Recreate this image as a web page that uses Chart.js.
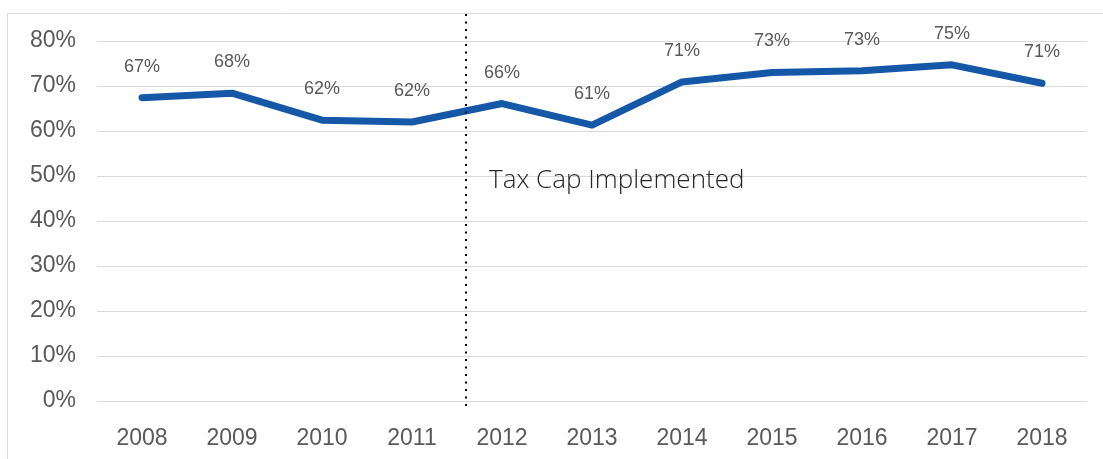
<!DOCTYPE html>
<html>
<head>
<meta charset="utf-8">
<script src="https://cdn.jsdelivr.net/npm/chart.js@4"></script>
<style>
    html, body { margin: 0; padding: 0; background: #ffffff; }
    #wrap { position: relative; width: 1103px; height: 459px; }
</style>
</head>
<body>
<div id="wrap"><canvas id="taxChart" width="1103" height="459"></canvas></div>
<script>
        // Chart data
        const years = ['2008', '2009', '2010', '2011', '2012', '2013', '2014', '2015', '2016', '2017', '2018'];
        const rates = [67.4, 68.4, 62.4, 62.0, 66.1, 61.3, 70.9, 73.0, 73.4, 74.7, 70.6];
        const yTicks = [0, 10, 20, 30, 40, 50, 60, 70, 80];

        // Marker for the policy change (category index, between 2011 and 2012)
        const capIndex = 3.6;
        const capLabel = 'Tax Cap Implemented';
        const capLabelValue = 49;

        // Point labels above the line
        const pointLabels = {
            id: 'pointLabels',
            afterDatasetsDraw(chart) {
                const ctx = chart.ctx;
                const meta = chart.getDatasetMeta(0);
                ctx.save();
                ctx.font = '18px "Liberation Sans", Arial, sans-serif';
                ctx.fillStyle = '#595959';
                ctx.textAlign = 'center';
                ctx.textBaseline = 'middle';
                meta.data.forEach((pt, i) => {
                    ctx.fillText(Math.round(rates[i]) + '%', pt.x, pt.y - 31);
                });
                ctx.restore();
            }
        };

        // Dotted line + caption, plus the outer frame
        const capMarker = {
            id: 'capMarker',
            beforeDraw(chart) {
                const ctx = chart.ctx;
                ctx.save();
                ctx.strokeStyle = '#d9d9d9';
                ctx.lineWidth = 1;
                ctx.beginPath();
                ctx.moveTo(7.5, 459);
                ctx.lineTo(7.5, 13.5);
                ctx.lineTo(1103, 13.5);
                ctx.stroke();
                ctx.restore();
            },
            afterDatasetsDraw(chart) {
                const ctx = chart.ctx;
                const x = chart.scales.x.getPixelForValue(capIndex);
                ctx.save();
                ctx.strokeStyle = '#000000';
                ctx.lineWidth = 2;
                ctx.setLineDash([2, 5.5]);
                ctx.beginPath();
                ctx.moveTo(x, 14);
                ctx.lineTo(x, 410);
                ctx.stroke();
                ctx.setLineDash([]);
                ctx.font = '300 26px "Open Sans", Lato, sans-serif';
                ctx.fillStyle = '#262626';
                ctx.textAlign = 'left';
                ctx.textBaseline = 'middle';
                ctx.fillText(capLabel, x + 23, chart.scales.y.getPixelForValue(capLabelValue));
                ctx.restore();
            }
        };

        const taxCtx = document.getElementById('taxChart');
        new Chart(taxCtx, {
            type: 'line',
            data: {
                labels: years,
                datasets: [{
                    data: rates,
                    borderColor: '#1558a8',
                    borderWidth: 7,
                    borderCapStyle: 'round',
                    borderJoinStyle: 'round',
                    pointRadius: 0,
                    tension: 0,
                    fill: false
                }]
            },
            options: {
                responsive: false,
                animation: false,
                layout: {
                    padding: { left: 0, right: 16, top: 41, bottom: 0 }
                },
                plugins: {
                    legend: { display: false },
                    tooltip: { enabled: false }
                },
                scales: {
                    x: {
                        offset: true,
                        grid: { display: false },
                        border: { display: false },
                        ticks: {
                            color: '#595959',
                            padding: 16,
                            font: { family: '"Liberation Sans", Arial, sans-serif', size: 23 }
                        },
                        afterFit(scale) { scale.height = 58; }
                    },
                    y: {
                        min: 0,
                        max: 80,
                        afterBuildTicks(scale) {
                            scale.ticks = yTicks.map(v => ({ value: v }));
                        },
                        grid: { color: '#d9d9d9', lineWidth: 1, drawTicks: false },
                        border: { display: false },
                        ticks: {
                            color: '#595959',
                            padding: 21,
                            font: { family: '"Liberation Sans", Arial, sans-serif', size: 23 },
                            callback: function(value) {
                                return value + '%';
                            }
                        },
                        afterFit(scale) { scale.width = 97; }
                    }
                }
            },
            plugins: [capMarker, pointLabels]
        });
</script>
</body>
</html>
